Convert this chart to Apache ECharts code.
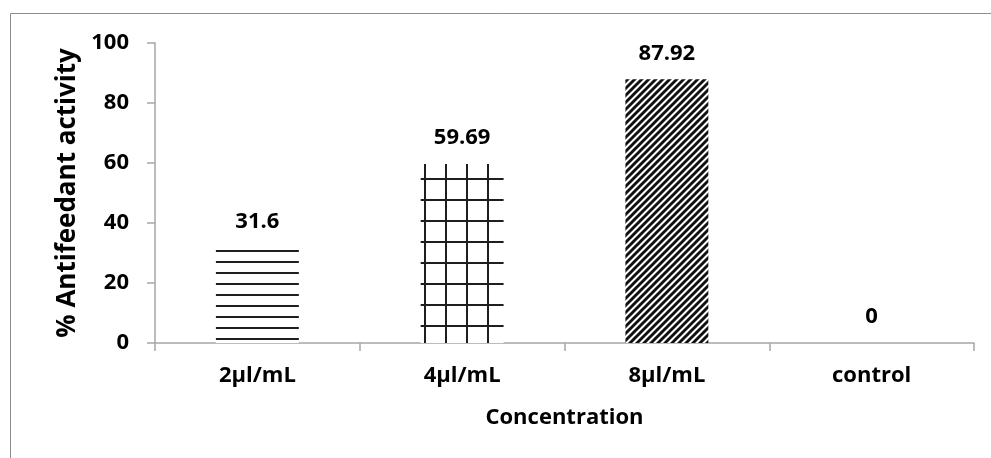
<!DOCTYPE html>
<html>
<head>
<meta charset="utf-8">
<script src="https://cdn.jsdelivr.net/npm/echarts@6/dist/echarts.min.js"></script>
<style>
  html, body { margin: 0; padding: 0; background: #fff; }
  #chart { width: 991px; height: 458px; }
</style>
</head>
<body>
<div id="chart"></div>
<script>
// Antifeedant activity by concentration
const categories = ['2µl/mL', '4µl/mL', '8µl/mL', 'control'];
const activity = [31.6, 59.69, 87.92, 0];
const yAxisTitle = '% Antifeedant activity';
const xAxisTitle = 'Concentration';

const FONT = '"Open Sans", "Noto Sans", sans-serif';
const INK = '#1e1e1e';

// --- hatch fills (canvas tiles repeated across each bar) ---
function tile(w, h, draw) {
  const c = document.createElement('canvas');
  c.width = w; c.height = h;
  const ctx = c.getContext('2d');
  ctx.fillStyle = '#ffffff';
  ctx.fillRect(0, 0, w, h);
  draw(ctx);
  return c;
}

// horizontal rules
const horizTile = tile(11, 11, ctx => {
  ctx.fillStyle = INK;
  ctx.fillRect(0, 8, 11, 2);
});

// square grid
const gridTile = tile(21, 21, ctx => {
  ctx.fillStyle = INK;
  ctx.fillRect(4, 0, 2, 21);
  ctx.fillRect(0, 10, 21, 2);
});

// dense "/" diagonal stripes
const diagTile = tile(7, 7, ctx => {
  ctx.strokeStyle = '#111';
  ctx.lineWidth = 2.9;
  ctx.beginPath();
  for (let k = -1; k <= 1; k++) {
    ctx.moveTo(k * 7 - 1, 8);
    ctx.lineTo(k * 7 + 8, -1);
  }
  ctx.stroke();
});

const fills = [horizTile, gridTile, diagTile, horizTile];

const chart = echarts.init(document.getElementById('chart'), null, { renderer: 'canvas' });

chart.setOption({
  animation: false,
  backgroundColor: '#ffffff',
  textStyle: { fontFamily: FONT },
  graphic: [{
    type: 'rect',
    shape: { x: 10.5, y: 13.5, width: 1200, height: 1200 },
    style: { fill: 'none', stroke: '#8c8c8c', lineWidth: 1 },
    silent: true
  }],
  grid: { left: 155, right: 17, top: 43, bottom: 115, containLabel: false },
  xAxis: {
    type: 'category',
    data: categories,
    boundaryGap: true,
    name: xAxisTitle,
    nameLocation: 'middle',
    nameGap: 64,
    nameTextStyle: { fontFamily: FONT, fontWeight: 'bold', fontSize: 22, color: '#000' },
    axisLine: { lineStyle: { color: '#a6a6a6', width: 1.5 } },
    axisTick: { show: true, length: 8, alignWithLabel: false, lineStyle: { color: '#a6a6a6', width: 1.5 } },
    axisLabel: { margin: 22, fontFamily: FONT, fontWeight: 'bold', fontSize: 22, color: '#000' },
    splitLine: { show: false }
  },
  yAxis: {
    type: 'value',
    min: 0,
    max: 100,
    interval: 20,
    name: yAxisTitle,
    nameLocation: 'middle',
    nameGap: 74,
    nameTextStyle: { fontFamily: FONT, fontWeight: 'bold', fontSize: 26, color: '#000' },
    axisLine: { show: true, lineStyle: { color: '#a6a6a6', width: 1.5 } },
    axisTick: { show: true, length: 8, lineStyle: { color: '#a6a6a6', width: 1.5 } },
    axisLabel: { margin: 26, fontFamily: FONT, fontWeight: 'bold', fontSize: 22, color: '#000' },
    splitLine: { show: false }
  },
  series: [{
    type: 'bar',
    barWidth: '40.5%',
    data: activity.map((v, i) => ({
      value: v,
      itemStyle: { color: { image: fills[i], repeat: 'repeat' } }
    })),
    label: {
      show: true,
      position: 'top',
      distance: 15,
      fontFamily: FONT,
      fontWeight: 'bold',
      fontSize: 22,
      color: '#000',
      formatter: p => String(activity[p.dataIndex])
    }
  }]
});
</script>
</body>
</html>
